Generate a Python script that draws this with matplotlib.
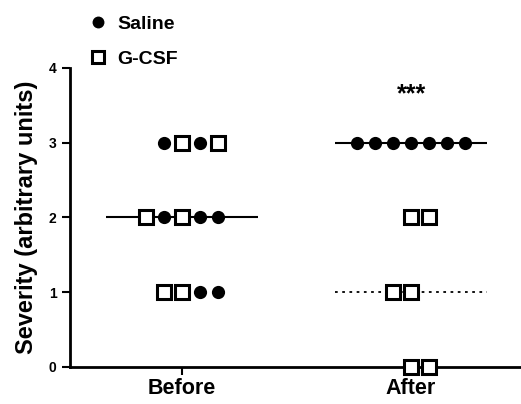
import matplotlib
matplotlib.use("Agg")
import matplotlib.pyplot as plt

plt.rcParams['font.family'] = ['Liberation Sans', 'DejaVu Sans']
plt.rcParams['font.weight'] = 'bold'

groups = ["Before", "After"]
saline = {"Before": [3, 3, 2, 2, 2, 1, 1],
          "After": [3, 3, 3, 3, 3, 3, 3]}
gcsf = {"Before": [3, 3, 2, 2, 1, 1],
        "After": [2, 2, 1, 1, 0, 0]}
saline_median = [2, 3]
gcsf_median = [2, 1]
star_label = "***"

# left-to-right order of symbols at each level (o = saline, s = G-CSF), first slot
layout = {
    ("Before", 3): (-1, "osos"),
    ("Before", 2): (-2, "sosoo"),
    ("Before", 1): (-1, "ssoo"),
    ("After", 3): (-3, "ooooooo"),
    ("After", 2): (0, "ss"),
    ("After", 1): (-1, "ss"),
    ("After", 0): (0, "ss"),
}
step = 0.078

fig = plt.figure(figsize=(5.21, 4.04), dpi=100)
ax = fig.add_axes([0.134, 0.092, 0.866, 0.74])

sx, sy, gx, gy = [], [], [], []
for i, g in enumerate(groups):
    for lvl in sorted(set(saline[g]) | set(gcsf[g])):
        start, order = layout[(g, lvl)]
        for k, c in enumerate(order):
            x = i + (start + k) * step
            if c == "o":
                sx.append(x); sy.append(lvl)
            else:
                gx.append(x); gy.append(lvl)

# median lines
for i in range(len(groups)):
    ax.plot([i - 0.33, i + 0.33], [saline_median[i]] * 2, color="black",
            lw=1.5, zorder=2, solid_capstyle="butt")
    if gcsf_median[i] != saline_median[i]:
        ax.plot([i - 0.33, i + 0.33], [gcsf_median[i]] * 2, color="black",
                lw=1.3, ls=(0, (1.5, 2.5)), zorder=2)

ax.plot(sx, sy, ls="none", marker="o", ms=9.5, mfc="black", mec="black",
        mew=0, zorder=3, clip_on=False, label="Saline")
ax.plot(gx, gy, ls="none", marker="s", ms=10, mfc="white", mec="black",
        mew=2.2, zorder=3, clip_on=False, label="G-CSF")

ax.text(1, 3.64, star_label, ha="center", va="center", fontsize=18,
        fontweight="bold")

ax.set_xlim(-0.49, 1.48)
ax.set_ylim(0, 4)
ax.set_yticks([0, 1, 2, 3, 4])
ax.set_xticks([0, 1])
ax.set_xticklabels(groups, fontsize=15.5, fontweight="bold")
ax.tick_params(axis="y", labelsize=10, width=1.5, length=6, pad=3.5)
ax.tick_params(axis="x", width=1.5, length=6, pad=2)
for s in ["top", "right"]:
    ax.spines[s].set_visible(False)
for s in ["left", "bottom"]:
    ax.spines[s].set_linewidth(2)
ax.set_ylabel("Severity (arbitrary units)", fontsize=17, fontweight="bold",
              labelpad=8)

leg = fig.legend(loc="upper left", bbox_to_anchor=(0.135, 1.005), frameon=False,
                 fontsize=14, handletextpad=0.5, labelspacing=0.9,
                 handlelength=1.0, markerscale=0.9)

fig.savefig("out.png", dpi=100)
